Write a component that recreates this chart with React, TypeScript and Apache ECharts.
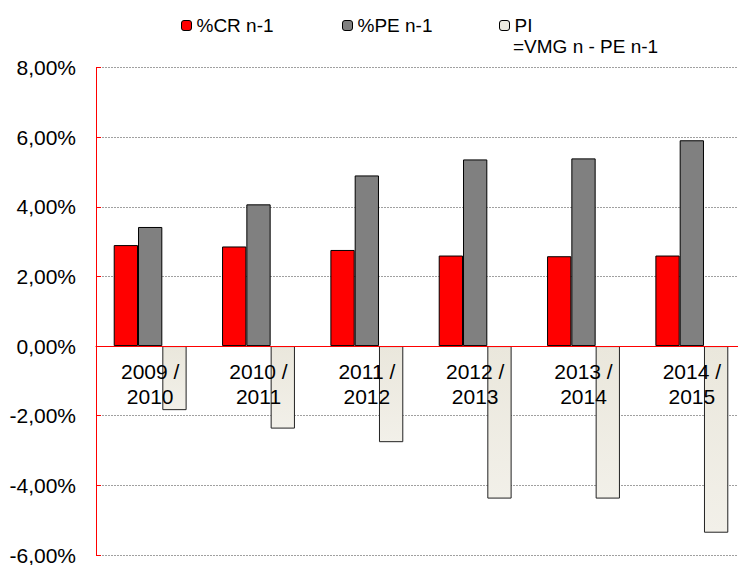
import React, { useEffect, useRef } from "react";
import * as echarts from "echarts";

const categories = ["2009 /\n2010", "2010 /\n2011", "2011 /\n2012", "2012 /\n2013", "2013 /\n2014", "2014 /\n2015"];
const crValues = [2.9, 2.86, 2.76, 2.6, 2.58, 2.6];
const peValues = [3.42, 4.07, 4.9, 5.36, 5.39, 5.91];
const piValues = [-1.84, -2.37, -2.76, -4.38, -4.38, -5.36];
const seriesNames = ["%CR n-1", "%PE n-1", "PI"];
const piSubtitle = "=VMG n - PE n-1";

const FONT = "'Liberation Sans', Arial, sans-serif";

export default function App() {
  const ref = useRef<HTMLDivElement>(null);
  useEffect(() => {
    if (!ref.current) return;
    const chart = echarts.init(ref.current, undefined, { renderer: "svg" });
    const gridTop = 67.5;
    const gridHeight = 487.5;
    const yMin = -6;
    const yMax = 8;
    const zeroOffset = (gridHeight * (0 - yMin)) / (yMax - yMin);
    const legendBase = {
      orient: "horizontal",
      top: 16,
      padding: 0,
      itemWidth: 10,
      itemHeight: 10,
      itemGap: 0,
      textStyle: { fontFamily: FONT, fontSize: 19, color: "#000" },
    };
    const barBorder = { borderColor: "#000", borderWidth: 1 };
    chart.setOption({
      animation: false,
      backgroundColor: "#fff",
      legend: [
        { ...legendBase, left: 181, data: [{ name: seriesNames[0], itemStyle: { color: "#ff0000", borderColor: "#000", borderWidth: 1 } }] },
        { ...legendBase, left: 342, data: [{ name: seriesNames[1], itemStyle: { color: "#808080", borderColor: "#000", borderWidth: 1 } }] },
        { ...legendBase, left: 499, data: [{ name: seriesNames[2], itemStyle: { color: "#ecEADF", borderColor: "#000", borderWidth: 1 } }] },
      ],
      graphic: [
        {
          type: "text",
          left: 513,
          top: 37,
          style: { text: piSubtitle, fontFamily: FONT, fontSize: 19, fill: "#000" },
        },
      ],
      grid: { left: 96, top: gridTop, width: 650, height: gridHeight, containLabel: false, outerBoundsMode: "none" },
      xAxis: {
        type: "category",
        data: categories,
        z: 10,
        position: "bottom",
        offset: -zeroOffset,
        axisLine: { onZero: false, lineStyle: { color: "#ff0000", width: 1 } },
        axisTick: { show: false },
        axisLabel: { fontFamily: FONT, fontSize: 21, lineHeight: 25, color: "#000", margin: 13, interval: 0 },
        splitLine: { show: false },
      },
      yAxis: {
        type: "value",
        min: yMin,
        max: yMax,
        interval: 2,
        axisLine: { show: true, lineStyle: { color: "#ff0000", width: 1 } },
        axisTick: { show: true, inside: true, length: 5, lineStyle: { color: "#ff0000" } },
        axisLabel: {
          fontFamily: FONT,
          fontSize: 21,
          color: "#000",
          margin: 20,
          formatter: (v: number) => v.toFixed(2).replace(".", ",") + "%",
        },
        splitLine: { show: true, lineStyle: { color: "#a0a0a0", type: [2, 1], width: 1 } },
      },
      series: [
        {
          name: seriesNames[0],
          type: "bar",
          data: crValues,
          barWidth: 24.3,
          barGap: "0%",
          itemStyle: { color: "#ff0000", ...barBorder },
        },
        {
          name: seriesNames[1],
          type: "bar",
          data: peValues,
          barWidth: 24.3,
          barGap: "0%",
          itemStyle: { color: "#808080", ...barBorder },
        },
        {
          name: seriesNames[2],
          type: "bar",
          data: piValues,
          barWidth: 24.3,
          barGap: "0%",
          itemStyle: {
            color: new echarts.graphic.LinearGradient(0, 0, 0, 1, [
              { offset: 0, color: "#eae7dc" },
              { offset: 1, color: "#f2f0e9" },
            ]),
            borderColor: "#222",
            borderWidth: 1,
          },
        },
      ],
    });
    return () => chart.dispose();
  }, []);
  return <div ref={ref} style={{ position: "fixed", left: 0, top: 0, width: 738, height: 565 }} />;
}
